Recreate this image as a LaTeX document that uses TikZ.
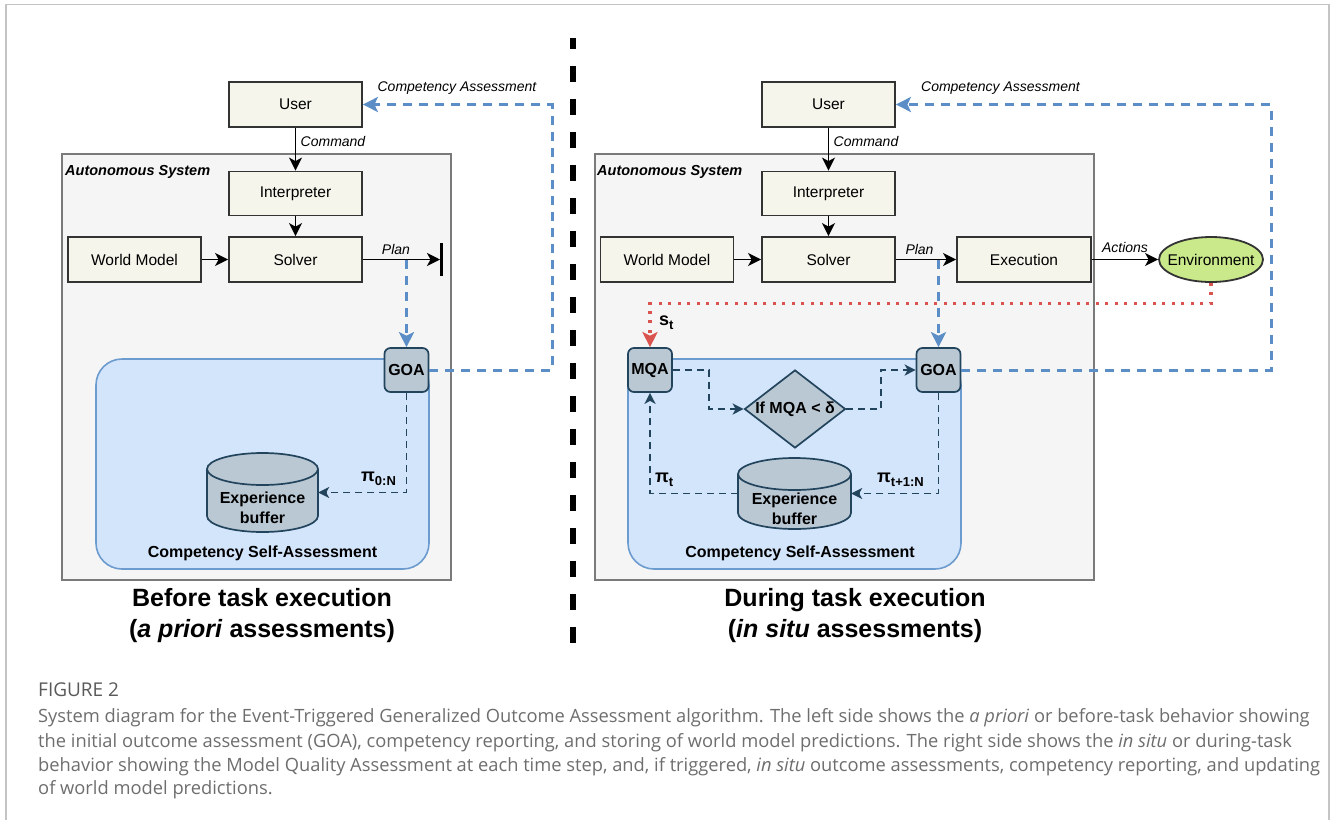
\documentclass[tikz,border=0pt]{standalone}
\usepackage{fontspec}
\setmainfont{Liberation Sans}
\newfontfamily\capfont{Open Sans}
\usetikzlibrary{arrows.meta,shapes.geometric,calc}
\definecolor{boxfill}{HTML}{F5F5EC}
\definecolor{boxdraw}{HTML}{333333}
\definecolor{asfill}{HTML}{F5F5F5}
\definecolor{asdraw}{HTML}{7A7A7A}
\definecolor{csafill}{HTML}{D3E5FA}
\definecolor{csadraw}{HTML}{6C9BCF}
\definecolor{goafill}{HTML}{BAC8D3}
\definecolor{goadraw}{HTML}{23445D}
\definecolor{bluedash}{HTML}{5B8EC6}
\definecolor{reddot}{HTML}{D9534F}
\definecolor{envfill}{HTML}{C9E98A}
\definecolor{capgray}{HTML}{6E6E6E}
\definecolor{capdark}{HTML}{5A5A5A}
\definecolor{framegray}{HTML}{C4C4C4}
\newcommand\drawcyl[4]{%
  \fill[goafill] (#1-#4,#2+16) rectangle (#1+#4,#3-16);
  \fill[goafill] (#1,#3-16) ellipse[x radius=#4,y radius=16];
  \draw[goadraw,line width=1.7pt] (#1-#4,#2+16) -- (#1-#4,#3-16) arc[start angle=180,end angle=0,x radius=#4,y radius=16] -- (#1+#4,#2+16);
  \draw[goadraw,line width=1.7pt,fill=goafill] (#1,#2+16) ellipse[x radius=#4,y radius=16];
}
\newcommand\greeklab[2]{\bfseries\fontsize{18}{18}\selectfont #1\raisebox{-4.5pt}{\fontsize{13}{13}\selectfont #2}}
\begin{document}
\begin{tikzpicture}[x=1pt,y=-1pt,
  every node/.style={inner sep=0pt},
  procbox/.style={draw=boxdraw, fill=boxfill, line width=1.8pt, minimum width=133pt, minimum height=45pt, font=\fontsize{15.5}{18}\selectfont},
  cubox/.style={draw=goadraw, fill=goafill, line width=1.7pt, rounded corners=6pt, minimum width=44pt, minimum height=44pt, font=\bfseries\fontsize{16}{19}\selectfont},
  sysbox/.style={draw=asdraw, fill=asfill, line width=1.6pt},
  csabox/.style={draw=csadraw, fill=csafill, line width=1.6pt, rounded corners=26pt},
  elabel/.style={font=\itshape\fontsize{14}{16}\selectfont},
  syslabel/.style={anchor=west, font=\bfseries\itshape\fontsize{14.5}{17}\selectfont},
  blabel/.style={font=\bfseries\fontsize{16}{19.5}\selectfont, align=center},
  ttl/.style={font=\bfseries\fontsize{25}{31}\selectfont, align=center},
  blk/.style={line width=1.8pt, -{Stealth[length=13pt,width=13pt,inset=3.5pt]}},
  bluearr/.style={draw=bluedash, line width=3pt, dash pattern=on 9pt off 7pt, -{Stealth[length=15pt,width=15pt,inset=3.5pt]}},
  darr/.style={draw=goadraw, line width=1.9pt, dash pattern=on 7pt off 5pt, -{Stealth[length=11pt,width=11pt,inset=3pt]}},
  redarr/.style={draw=reddot, line width=3.2pt, dash pattern=on 3pt off 6.5pt, -{Stealth[length=15pt,width=15pt,inset=3.5pt]}},
  capline/.style={anchor=base west, font=\capfont\fontsize{18.3}{22}\selectfont, text=capgray},
]
\useasboundingbox (0,0) rectangle (1332,820);
\fill[white] (0,0) rectangle (1332,820);
\draw[framegray, line width=1.5pt] (6,820) -- (6,4.5) -- (1329,4.5) -- (1329,820);

% divider
\draw[line width=6pt, dash pattern=on 16pt off 17pt, dash phase=5pt] (573,38) -- (573,648);

% ================= LEFT =================
\node[sysbox, minimum width=389pt, minimum height=426pt] (asL) at (256.5,367) {};
\node[syslabel] (asLl) at (65,172) {Autonomous System};
\node[csabox, minimum width=333pt, minimum height=210pt] (csaL) at (262.5,464) {};
\node[blabel] (csaLl) at (262.5,553) {Competency Self-Assessment};

\node[procbox] (uL) at (295.5,104.5) {User};
\node[procbox, minimum height=44pt] (iL) at (295.5,193.5) {Interpreter};
\node[procbox] (wL) at (134.5,259.5) {World Model};
\node[procbox] (sL) at (295.5,259.5) {Solver};
\node[cubox] (goaL) at (406.5,370) {GOA};

\node[minimum width=111pt, minimum height=79pt] (ebL) at (262.5,492.5) {};
\drawcyl{262.5}{453}{532}{55.5}
\node[blabel] (ebLt) at (262.5,508) {Experience\\buffer};

\draw[blk] (uL) -- (iL);
\node[elabel] (cmdL) at (333,141) {Command};
\draw[blk] (iL) -- (sL);
\draw[blk] (wL) -- (sL);
\coordinate (barL) at (440,259.5);
\draw[blk] (sL.east) -- (barL);
\draw[line width=3pt] (441.5,243) -- (441.5,276);
\node[elabel] (planL) at (396,249) {Plan};
\coordinate (pL) at (406.5,259.5);
\draw[bluearr] (pL) -- (goaL.north);
\coordinate (caL) at (552,104.5);
\draw[bluearr] (goaL.east) -| (caL) -- (uL.east);
\node[elabel] (calL) at (457,88) {Competency Assessment};
\draw[darr] (goaL.south) |- (ebL.east);
\node[anchor=base west] (piL) at (361,481) {\greeklab{π}{0:N}};

\node[ttl] (tL) at (262,616) {Before task execution\\(\textit{a priori} assessments)};

% ================= RIGHT =================
\node[sysbox, minimum width=499pt, minimum height=426pt] (asR) at (844.5,367) {};
\node[syslabel] (asRl) at (597,172) {Autonomous System};
\node[csabox, minimum width=333pt, minimum height=210pt] (csaR) at (794.5,464) {};
\node[blabel] (csaRl) at (800,553) {Competency Self-Assessment};

\node[procbox] (uR) at (828.5,104.5) {User};
\node[procbox, minimum height=44pt] (iR) at (828.5,193.5) {Interpreter};
\node[procbox] (wR) at (667,259.5) {World Model};
\node[procbox] (sR) at (828.5,259.5) {Solver};
\node[procbox, minimum width=134pt] (exR) at (1024,259.5) {Execution};
\node[ellipse, draw=boxdraw, fill=envfill, line width=1.8pt, minimum width=104pt, minimum height=45pt] (envR) at (1211,259.5) {};
\node[font=\fontsize{15.5}{18}\selectfont] (envRt) at (envR) {Environment};
\node[cubox] (mqaR) at (650,370) {MQA};
\node[cubox] (goaR) at (938.5,370) {GOA};
\node[diamond, draw=goadraw, fill=goafill, line width=1.7pt, aspect=1.3, minimum width=101pt, minimum height=78pt] (dia) at (795,409) {};
\node[blabel] (diat) at (795,409) {If MQA < δ};

\node[minimum width=113pt, minimum height=71pt] (ebR) at (794.5,493.5) {};
\drawcyl{794.5}{458}{529}{56.5}
\node[blabel] (ebRt) at (794.5,509) {Experience\\buffer};

\draw[blk] (uR) -- (iR);
\node[elabel] (cmdR) at (866,141) {Command};
\draw[blk] (iR) -- (sR);
\draw[blk] (wR) -- (sR);
\draw[blk] (sR) -- (exR);
\node[elabel] (planR) at (919.5,249) {Plan};
\draw[blk] (exR) -- (envR);
\node[elabel] (actR) at (1125,247) {Actions};

\coordinate (pR) at (938.5,259.5);
\draw[bluearr] (pR) -- (goaR.north);
\coordinate (rd) at (650,303.5);
\draw[redarr] (envR.south) |- (rd) -- (mqaR.north);
\node[anchor=base west] (stR) at (659,325) {\greeklab{s}{t}};
\coordinate (caR) at (1271,104.5);
\draw[bluearr] (goaR.east) -| (caR) -- (uR.east);
\node[elabel] (calR) at (1000.5,88) {Competency Assessment};

\draw[darr] (mqaR.east) -- ++(36,0) |- (dia.west);
\draw[darr] (dia.east) -- ++(35,0) |- (goaR.west);
\draw[darr] (goaR.south) |- (ebR.east);
\draw[darr] (ebR.west) -| (mqaR.south);
\node[anchor=base west] (piR1) at (655,482) {\greeklab{π}{t}};
\node[anchor=base west] (piR2) at (877,482) {\greeklab{π}{t+1:N}};

\node[ttl] (tR) at (855,616) {During task execution\\(\textit{in situ} assessments)};

% ================= CAPTION =================
\node[capline, font=\capfont\fontsize{19}{22}\selectfont, text=capdark] (fig) at (38,696) {FIGURE 2};
\node[capline] (c1) at (38,722) {System diagram for the Event-Triggered Generalized Outcome Assessment algorithm. The left side shows the \textit{a priori} or before-task behavior showing};
\node[capline] (c2) at (38,747) {the initial outcome assessment (GOA), competency reporting, and storing of world model predictions. The right side shows the \textit{in situ} or during-task};
\node[capline] (c3) at (38,771) {behavior showing the Model Quality Assessment at each time step, and, if triggered, \textit{in situ} outcome assessments, competency reporting, and updating};
\node[capline] (c4) at (38,794) {of world model predictions.};
\end{tikzpicture}
\end{document}
